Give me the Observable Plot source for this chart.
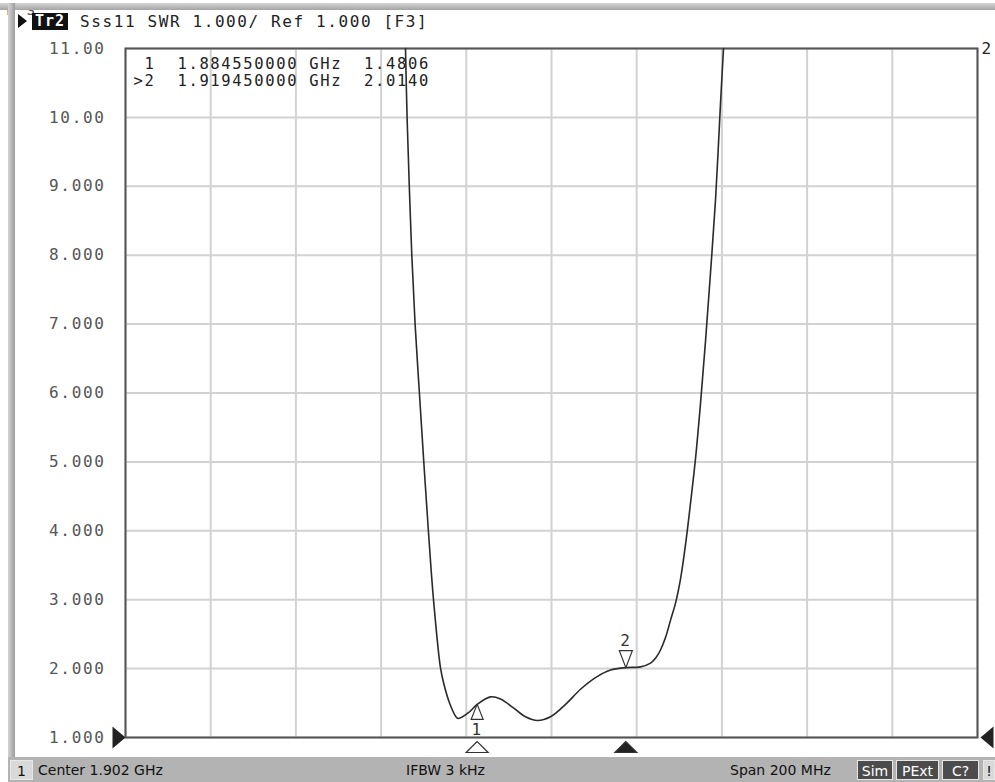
<!DOCTYPE html>
<html><head><meta charset="utf-8">
<script src="https://cdn.jsdelivr.net/npm/d3@7"></script>
<script src="https://cdn.jsdelivr.net/npm/@observablehq/plot@0.6"></script>
<style>
html,body{margin:0;padding:0;background:#fff;}
#root{position:relative;width:995px;height:782px;overflow:hidden;}
#frameTop{position:absolute;left:0;top:3px;width:995px;height:7px;background:linear-gradient(#d4d4d4,#a4a4a4);}
#frameLeft{position:absolute;left:8px;top:3px;width:7px;height:754px;background:linear-gradient(90deg,#d4d4d4,#9c9c9c);}
#header{position:absolute;left:18px;top:11px;height:20px;font-family:"DejaVu Sans Mono",monospace;font-size:16px;letter-spacing:1.6px;color:#222;white-space:pre;display:flex;align-items:center;}
#header .tri{width:0;height:0;border-top:7px solid transparent;border-bottom:7px solid transparent;border-left:9px solid #111;margin-right:5px;}
#header .tr{background:#111;color:#fff;font-weight:bold;font-size:15px;letter-spacing:1px;padding:0 3px;height:17px;line-height:17px;margin-right:12px;}
#chart{position:absolute;left:0;top:0;}
#chart svg text{white-space:pre;}
#status{position:absolute;left:8px;top:757px;width:987px;height:25px;background:#b3b3b3;}
.st{position:absolute;top:760px;height:20px;line-height:20px;font-family:"DejaVu Sans",sans-serif;font-size:14px;color:#111;white-space:pre;}
.box{text-align:center;border:1px solid #e6e6e6;box-sizing:border-box;}
.dark{background:#4c4c4c;color:#fff;}
</style>
</head><body>
<div id="root">
  <div id="chart"></div>
  <div id="frameTop"></div>
  <div id="frameLeft"></div>
  <div id="header"><span class="tri"></span><span class="tr">Tr2</span><span id="hdrText"></span></div>
  <div id="status"></div>
  <div class="st box" style="left:10px;width:23px;background:#d9d9d9;">1</div>
  <div class="st" id="centerTxt" style="left:38px;"></div>
  <div class="st" id="ifbwTxt" style="left:406px;"></div>
  <div class="st" id="spanTxt" style="left:730px;"></div>
  <div class="st box dark" style="left:857px;width:36px;">Sim</div>
  <div class="st box dark" style="left:896px;width:43px;">PExt</div>
  <div class="st box dark" style="left:942px;width:37px;">C?</div>
  <div class="st box" style="left:983px;width:12px;background:#d9d9d9;">!</div>
</div>
<script>
// ---- data ----
const traceFreqGHz = [1.86773, 1.86810, 1.86862, 1.86921, 1.86998, 1.87099, 1.87202, 1.87310, 1.87430, 1.87594, 1.87672, 1.87813, 1.87970, 1.88017, 1.88252, 1.88455, 1.88768, 1.89003, 1.89308, 1.89590, 1.89871, 1.90177, 1.90529, 1.90881, 1.91233, 1.91585, 1.91945, 1.92289, 1.92524, 1.92641, 1.92759, 1.92876, 1.92993, 1.93111, 1.93228, 1.93346, 1.93463, 1.93581, 1.93698, 1.93815, 1.93933, 1.94050, 1.94167, 1.94238];
const traceSwr     = [11.0, 10.0, 9.0, 8.0, 7.0, 6.0, 5.0, 4.0, 3.0, 2.01, 1.78, 1.49, 1.29, 1.275, 1.36, 1.4806, 1.59, 1.56, 1.43, 1.30, 1.246, 1.30, 1.48, 1.70, 1.87, 1.98, 2.014, 2.025, 2.08, 2.15, 2.27, 2.45, 2.70, 2.95, 3.30, 3.80, 4.40, 5.05, 5.85, 6.75, 7.75, 8.80, 10.2, 11.0];
const markerNames = ["1", "2"];
const markerFreqGHz = [1.88455, 1.91945];
const markerSwr = [1.4806, 2.0140];
const activeMarker = 1;
const yTickValues = [1, 2, 3, 4, 5, 6, 7, 8, 9, 10, 11];
const centerGHz = 1.902;
const spanMHz = 200;
const refValue = 1.000;
const scaleDiv = 1.000;
const traceNumber = "2";
const measurement = "Sss11";
const format = "SWR";
const ifbw = "IFBW 3 kHz";

// ---- build ----
const xStart = centerGHz - spanMHz / 2000, xStop = centerGHz + spanMHz / 2000;
const xGrid = d3.range(11).map(i => xStart + i * (xStop - xStart) / 10);
const trace = traceFreqGHz.map((f, i) => ({f, s: traceSwr[i]}));
const markers = markerFreqGHz.map((f, i) => ({f, s: markerSwr[i], name: markerNames[i], active: i === activeMarker}));
const readoutLines = markers.map(m => `${m.active ? ">" : " "}${m.name}  ${m.f.toFixed(9)} GHz  ${m.s.toFixed(4)}`);

document.getElementById("hdrText").textContent = `${measurement} ${format} ${scaleDiv.toFixed(3)}/ Ref ${refValue.toFixed(3)} [F3]`;
document.getElementById("centerTxt").textContent = `Center ${centerGHz} GHz`;
document.getElementById("ifbwTxt").textContent = ifbw;
document.getElementById("spanTxt").textContent = `Span ${spanMHz} MHz`;

const triUp = {draw(c) { c.moveTo(0, 0); c.lineTo(-6, 15); c.lineTo(6, 15); c.closePath(); }};
const triDown = {draw(c) { c.moveTo(0, 0); c.lineTo(-6.5, -17); c.lineTo(6.5, -17); c.closePath(); }};
const triAxis = {draw(c) { c.moveTo(0, 0); c.lineTo(-11, 11); c.lineTo(11, 11); c.closePath(); }};
const triRight = {draw(c) { c.moveTo(0, 0); c.lineTo(-13, -11); c.lineTo(-13, 11); c.closePath(); }};
const triLeft = {draw(c) { c.moveTo(0, 0); c.lineTo(13, -11); c.lineTo(13, 11); c.closePath(); }};

const chart = Plot.plot({
  width: 995,
  height: 757,
  marginLeft: 125,
  marginRight: 18,
  marginTop: 48,
  marginBottom: 20,
  style: {fontFamily: "DejaVu Sans Mono, monospace", fontSize: "16px", color: "#444", background: "transparent", letterSpacing: "1.65px"},
  x: {domain: [xStart, xStop], axis: null},
  y: {domain: [1, 11], axis: null},
  marks: [
    Plot.gridX(xGrid, {stroke: "#d2d2d2", strokeOpacity: 1, strokeWidth: 2}),
    Plot.gridY(yTickValues, {stroke: "#d2d2d2", strokeOpacity: 1, strokeWidth: 2}),
    Plot.axisY(yTickValues, {tickSize: 0, tickPadding: 20, fill: "#555", tickFormat: d => d >= 10 ? d.toFixed(2) : d.toFixed(3)}),
    Plot.text([readoutLines[0]], {frameAnchor: "top-left", textAnchor: "start", lineAnchor: "top", dx: 8, dy: 9, fontSize: 15.5, fill: "#222", text: d => d}),
    Plot.text([readoutLines[1]], {frameAnchor: "top-left", textAnchor: "start", lineAnchor: "top", dx: 8, dy: 26, fontSize: 15.5, fill: "#222", text: d => d}),
    Plot.frame({stroke: "#555", strokeWidth: 2}),
    Plot.line(trace, {x: "f", y: "s", stroke: "#2a2a2a", strokeWidth: 1.6, curve: "catmull-rom"}),
    Plot.dot(markers.filter(m => !m.active), {x: "f", y: "s", symbol: triUp, fill: "white", stroke: "#333", strokeWidth: 1.2}),
    Plot.text(markers.filter(m => !m.active), {x: "f", y: "s", text: "name", dy: 25, fill: "#333"}),
    Plot.dot(markers.filter(m => m.active), {x: "f", y: "s", symbol: triDown, fill: "white", stroke: "#333", strokeWidth: 1.2}),
    Plot.text(markers.filter(m => m.active), {x: "f", y: "s", text: "name", dy: -27, fill: "#333"}),
    Plot.dot(markers, {x: "f", frameAnchor: "bottom", dy: 4, symbol: triAxis, fill: m => m.active ? "#222" : "white", stroke: "#333", strokeWidth: 1.2}),
    Plot.dot([refValue], {y: d => d, frameAnchor: "left", symbol: triRight, fill: "#222", stroke: "none"}),
    Plot.dot([refValue], {y: d => d, frameAnchor: "right", dx: 3, symbol: triLeft, fill: "#222", stroke: "none"}),
    Plot.text([traceNumber], {frameAnchor: "top-right", textAnchor: "start", dx: 4, dy: -6, fill: "#222", text: d => d})
  ]
});
document.getElementById("chart").appendChild(chart);
</script>
</body></html>
